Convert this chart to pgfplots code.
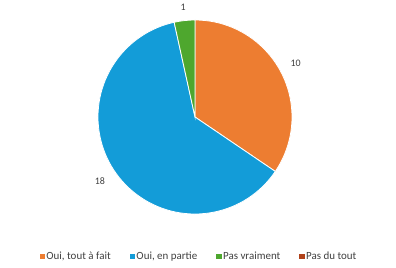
\documentclass[border=0pt]{standalone}
\usepackage{pgfplots}
\usepackage{pgfplotstable}
\pgfplotsset{compat=1.18}
\usepackage{fontspec}
\setmainfont{Carlito}
\definecolor{cOrange}{HTML}{ED7D31}
\definecolor{cBlue}{HTML}{139CD8}
\definecolor{cGreen}{HTML}{4EA72E}
\definecolor{cRed}{HTML}{B0421A}
\definecolor{cText}{HTML}{404040}
\pgfplotstableread{
idx value
0 10
1 18
2 1
3 0
}\piedata
\begin{document}
\begin{tikzpicture}
\pgfplotstablegetelem{0}{value}\of\piedata \edef\va{\pgfplotsretval}
\pgfplotstablegetelem{1}{value}\of\piedata \edef\vb{\pgfplotsretval}
\pgfplotstablegetelem{2}{value}\of\piedata \edef\vc{\pgfplotsretval}
\pgfplotstablegetelem{3}{value}\of\piedata \edef\vd{\pgfplotsretval}
\pgfmathsetmacro\total{\va+\vb+\vc+\vd}
\pgfmathsetmacro\aA{90}
\pgfmathsetmacro\aB{\aA-360*\va/\total}
\pgfmathsetmacro\aC{\aB-360*\vb/\total}
\pgfmathsetmacro\aD{\aC-360*\vc/\total}
\pgfmathsetmacro\mA{(\aA+\aB)/2}
\pgfmathsetmacro\mB{(\aB+\aC)/2}
\pgfmathsetmacro\mC{(\aC+\aD)/2}
\begin{axis}[
  width=396bp, height=268bp, scale only axis,
  hide axis, clip=false,
  xmin=0, xmax=396, ymin=0, ymax=268,
  legend columns=4,
  legend style={draw=none, fill=none, font=\fontsize{11}{13}\selectfont\color{cText},
    at={(axis cs:199,12)}, anchor=center,
    /tikz/every even column/.append style={column sep=17bp}},
  legend image code/.code={\fill[#1] (0bp,-2.2bp) rectangle (4.4bp,2.2bp);},
]
\path (axis cs:0,0) rectangle (axis cs:396,268);
\fill[cOrange, draw=white, line width=0.8pt] (axis cs:195,151) -- ++(\aA:97bp) arc[start angle=\aA, end angle=\aB, radius=97bp] -- cycle;
\fill[cBlue, draw=white, line width=0.8pt] (axis cs:195,151) -- ++(\aB:97bp) arc[start angle=\aB, end angle=\aC, radius=97bp] -- cycle;
\fill[cGreen, draw=white, line width=0.8pt] (axis cs:195,151) -- ++(\aC:97bp) arc[start angle=\aC, end angle=\aD, radius=97bp] -- cycle;
\node[font=\fontsize{10}{12}\selectfont, text=cText] at ([shift={(\mA:114bp)}]axis cs:195,151) {\va};
\node[font=\fontsize{10}{12}\selectfont, text=cText] at ([shift={(\mB:115bp)}]axis cs:195,151) {\vb};
\node[font=\fontsize{10}{12}\selectfont, text=cText] at ([shift={(\mC:110bp)}]axis cs:195,151) {\vc};
\addlegendimage{cOrange}\addlegendentry{Oui, tout à fait}
\addlegendimage{cBlue}\addlegendentry{Oui, en partie}
\addlegendimage{cGreen}\addlegendentry{Pas vraiment}
\addlegendimage{cRed}\addlegendentry{Pas du tout}
\end{axis}
\end{tikzpicture}
\end{document}
